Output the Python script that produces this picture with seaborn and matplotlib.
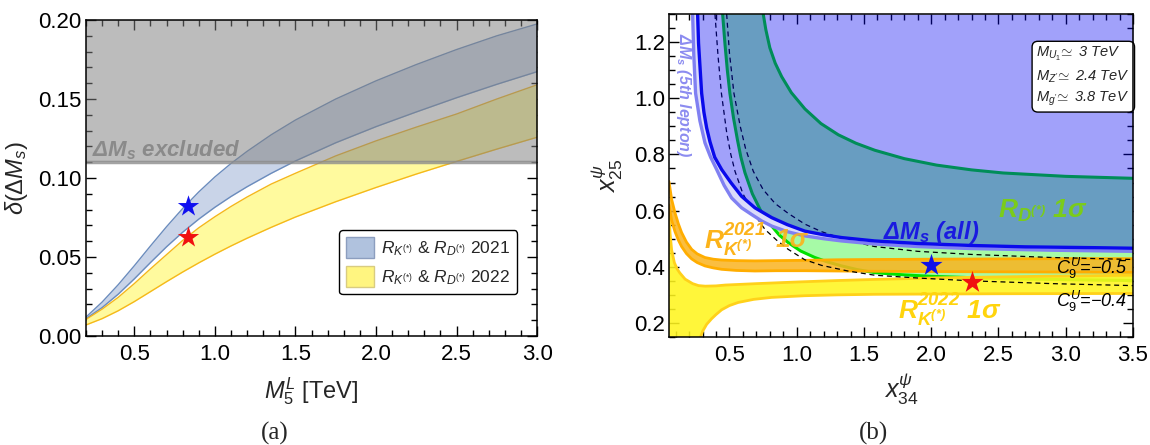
import matplotlib
matplotlib.use("Agg")
import matplotlib.pyplot as plt
from matplotlib.patches import Patch
from matplotlib.ticker import MultipleLocator, FormatStrFormatter
import seaborn as sns

# ---------------- panel (a): delta(Delta M_s) vs M_5^L ----------------
m5 = [0.2, 0.3, 0.4, 0.5, 0.6, 0.7, 0.8, 0.9, 1.0, 1.1, 1.2, 1.35, 1.5, 1.75, 2.0, 2.25, 2.5, 2.75, 3.0]
band21_hi = [0.012, 0.0215, 0.0325, 0.0445, 0.057, 0.0692, 0.0807, 0.0912, 0.1007, 0.1092,
             0.1169, 0.1274, 0.1367, 0.150, 0.1615, 0.1718, 0.1813, 0.190, 0.1975]
band21_lo = [0.011, 0.018, 0.0265, 0.0362, 0.0465, 0.0565, 0.0657, 0.074, 0.0815, 0.0883,
             0.0945, 0.103, 0.1108, 0.1223, 0.1325, 0.1418, 0.1508, 0.1593, 0.1673]
band22_hi = [0.0105, 0.017, 0.0245, 0.0332, 0.0425, 0.0515, 0.0605, 0.0685, 0.0755, 0.082,
             0.088, 0.0962, 0.103, 0.114, 0.1235, 0.1322, 0.1405, 0.150, 0.159]
band22_lo = [0.007, 0.011, 0.016, 0.0218, 0.0281, 0.0344, 0.0405, 0.0463, 0.0518, 0.057,
             0.0619, 0.0688, 0.0753, 0.085, 0.094, 0.1025, 0.1105, 0.1183, 0.1258]
dms_excluded = 0.11
star_m5 = [0.836]
star21 = [0.082]
star22 = [0.0627]
legend_labels = [r"$R_{K^{(*)}}$ & $R_{D^{(*)}}$ 2021", r"$R_{K^{(*)}}$ & $R_{D^{(*)}}$ 2022"]

# ---------------- panel (b): x25 vs x34 ----------------
dms_all_x = [0.263, 0.27, 0.293, 0.31, 0.33, 0.355, 0.39, 0.442, 0.51, 0.59, 0.689, 0.814,
             0.93, 1.06, 1.2, 1.334, 1.58, 1.9, 2.29, 2.7, 3.22, 3.5]
dms_all_y = [1.3, 1.196, 1.018, 0.95, 0.895, 0.845, 0.79, 0.746, 0.70, 0.651, 0.61, 0.575,
             0.55, 0.527, 0.514, 0.504, 0.492, 0.483, 0.476, 0.471, 0.468, 0.466]
dms_5th_x = [0.226, 0.235, 0.248, 0.28, 0.318, 0.36, 0.405, 0.46, 0.516, 0.59, 0.665, 0.74,
             0.814, 0.93, 1.06, 1.2, 1.334, 1.58, 1.9, 2.29, 2.9, 3.5]
dms_5th_y = [1.3, 1.15, 1.018, 0.92, 0.841, 0.79, 0.746, 0.69, 0.645, 0.61, 0.586, 0.563,
             0.545, 0.525, 0.51, 0.5, 0.492, 0.481, 0.472, 0.465, 0.459, 0.455]

rd_lo_x = [0.449, 0.466, 0.484, 0.503, 0.53, 0.56, 0.585, 0.615, 0.67, 0.739, 0.814, 0.87,
           0.937, 1.03, 1.135, 1.23, 1.334, 1.45, 1.58, 1.8, 2.0, 2.5, 3.0, 3.5]
rd_lo_y = [1.3, 1.196, 1.1, 1.018, 0.93, 0.85, 0.79, 0.735, 0.66, 0.593, 0.545, 0.513,
           0.486, 0.456, 0.433, 0.417, 0.403, 0.39, 0.379, 0.371, 0.366, 0.358, 0.354, 0.351]
rd_hi_x = [0.751, 0.77, 0.80, 0.84, 0.888, 0.96, 1.061, 1.18, 1.309, 1.44, 1.58, 1.8, 2.04,
           2.3, 2.535, 3.0, 3.5]
rd_hi_y = [1.3, 1.245, 1.18, 1.125, 1.077, 1.02, 0.962, 0.91, 0.87, 0.84, 0.815, 0.785, 0.762,
           0.745, 0.734, 0.722, 0.715]

c9_04_x = [0.392, 0.415, 0.44, 0.48, 0.51, 0.541, 0.6, 0.68, 0.764, 0.85, 0.937, 1.06, 1.185,
           1.38, 1.58, 1.9, 2.3, 2.9, 3.5]
c9_04_y = [1.3, 1.15, 1.018, 0.875, 0.80, 0.74, 0.66, 0.59, 0.533, 0.495, 0.462, 0.425, 0.405,
           0.385, 0.370, 0.36, 0.350, 0.34, 0.333]
c9_05_x = [0.479, 0.5, 0.533, 0.58, 0.62, 0.677, 0.75, 0.84, 0.937, 1.06, 1.185, 1.38, 1.58,
           1.9, 2.3, 2.9, 3.5]
c9_05_y = [1.3, 1.16, 1.018, 0.9, 0.82, 0.74, 0.675, 0.625, 0.59, 0.552, 0.525, 0.494, 0.472,
           0.455, 0.444, 0.433, 0.426]

rk21_x = [0.05, 0.07, 0.095, 0.12, 0.144, 0.18, 0.219, 0.26, 0.318, 0.38, 0.442, 0.55, 0.689,
          0.85, 1.06, 1.3, 1.58, 2.0, 2.5, 3.0, 3.5]
rk21_hi = [0.704, 0.64, 0.592, 0.553, 0.522, 0.488, 0.462, 0.446, 0.433, 0.427, 0.424, 0.422,
           0.421, 0.422, 0.423, 0.425, 0.426, 0.427, 0.428, 0.429, 0.429]
rk21_lo = [0.62, 0.565, 0.525, 0.495, 0.472, 0.447, 0.428, 0.415, 0.403, 0.396, 0.391, 0.387,
           0.385, 0.386, 0.386, 0.385, 0.384, 0.383, 0.382, 0.381, 0.38]

rk22_hi_x = [0.05, 0.058, 0.07, 0.09, 0.11, 0.131, 0.17, 0.226, 0.27, 0.32, 0.4, 0.469, 0.7,
             1.009, 1.3, 1.58, 2.09, 2.8, 3.5]
rk22_hi_y = [0.60, 0.52, 0.46, 0.415, 0.393, 0.378, 0.356, 0.34, 0.333, 0.331, 0.332, 0.335,
             0.34, 0.346, 0.351, 0.355, 0.361, 0.366, 0.37]
rk22_lo_x = [0.285, 0.3, 0.33, 0.367, 0.4, 0.442, 0.5, 0.565, 0.68, 0.814, 1.06, 1.3, 1.58,
             2.5, 3.5]
rk22_lo_y = [0.15, 0.17, 0.195, 0.215, 0.23, 0.247, 0.262, 0.273, 0.284, 0.291, 0.297, 0.3,
             0.302, 0.304, 0.305]

bench_x = [2.0, 2.3]
bench_y = [0.405, 0.346]
bench_colors = ["#1010e8", "#f01010"]

XMIN, XMAX, YMIN, YMAX = 0.05, 3.5, 0.15, 1.3

sns.set_style("ticks")
plt.rcParams["font.family"] = ["Liberation Sans", "DejaVu Sans"]
plt.rcParams["mathtext.fontset"] = "custom"
plt.rcParams["mathtext.rm"] = "Liberation Sans"
plt.rcParams["mathtext.it"] = "Liberation Sans:italic"
plt.rcParams["mathtext.bf"] = "Liberation Sans:italic:bold"


def curve(ax, xs, ys, **kw):
    sns.lineplot(x=xs, y=ys, ax=ax, sort=False, estimator=None, **kw)


def frame(ax, xmaj, xmin, ymaj, ymin, xfmt, yfmt):
    ax.xaxis.set_major_locator(MultipleLocator(xmaj))
    ax.xaxis.set_minor_locator(MultipleLocator(xmin))
    ax.yaxis.set_major_locator(MultipleLocator(ymaj))
    ax.yaxis.set_minor_locator(MultipleLocator(ymin))
    ax.xaxis.set_major_formatter(FormatStrFormatter(xfmt))
    ax.yaxis.set_major_formatter(FormatStrFormatter(yfmt))
    ax.tick_params(which="both", direction="in", top=True, right=True,
                   width=1, colors="black", labelsize=16)
    ax.tick_params(which="major", length=7)
    ax.tick_params(which="minor", length=4)
    ax.tick_params(axis="x", pad=6)
    ax.tick_params(axis="y", pad=3)
    for s in ax.spines.values():
        s.set_linewidth(1.1)
        s.set_color("black")
        s.set_zorder(20)


fig = plt.figure(figsize=(11.5, 4.45), dpi=100)
axa = fig.add_axes([0.0748, 0.2449, 0.3922, 0.7101])
axb = fig.add_axes([0.5817, 0.2427, 0.4035, 0.7258])

# ---------------- panel (a) ----------------
blue_fill, blue_edge = (0.79, 0.83, 0.91), (0.42, 0.55, 0.74)
yel_fill, yel_edge = (1.0, 0.98, 0.62), (0.96, 0.72, 0.1)
axa.fill_between(m5, band21_lo, band21_hi, color=blue_fill, lw=0, zorder=1)
axa.fill_between(m5, band22_lo, band22_hi, color=yel_fill, lw=0, zorder=1)
for arr in (band21_hi, band21_lo):
    curve(axa, m5, arr, color=blue_edge, lw=1, zorder=2)
for arr in (band22_hi, band22_lo):
    curve(axa, m5, arr, color=yel_edge, lw=1, zorder=2)
axa.axhspan(dms_excluded, 0.2, color=(0.5, 0.5, 0.5), alpha=0.52, lw=0, zorder=3)
axa.axhline(dms_excluded, color=(0.55, 0.55, 0.55), lw=2.5, alpha=0.8, zorder=4)
axa.text(0.235, 0.1135, r"$\mathbf{\Delta M_s}$ excluded", fontsize=16, fontweight="bold",
         style="italic", color=(0.54, 0.54, 0.54), zorder=5)
sns.scatterplot(x=star_m5, y=star21, ax=axa, marker="*", s=260, color="#1010f0", lw=0, zorder=6)
sns.scatterplot(x=star_m5, y=star22, ax=axa, marker="*", s=260, color="#f01010", lw=0, zorder=6)

handles = [Patch(facecolor=(0.69, 0.76, 0.87), edgecolor=(0.55, 0.62, 0.75), label=legend_labels[0]),
           Patch(facecolor=(1.0, 0.96, 0.5), edgecolor=(0.85, 0.8, 0.5), label=legend_labels[1])]
leg = axa.legend(handles=handles, loc="lower right", bbox_to_anchor=(0.975, 0.105), fontsize=12.5,
                 frameon=True, fancybox=True, edgecolor="black", framealpha=1,
                 handlelength=1.6, handleheight=1.5, borderpad=0.4, labelspacing=0.45,
                 handletextpad=0.4)
leg.get_frame().set_linewidth(1.0)
leg.set_zorder(10)

axa.set_xlim(0.2, 3.0)
axa.set_ylim(0, 0.2)
frame(axa, 0.5, 0.1, 0.05, 0.01, "%.1f", "%.2f")
axa.set_xlabel(r"$M_5^L$ [TeV]", fontsize=17)
axa.set_ylabel(r"$\delta(\Delta M_s)$", fontsize=17)
axa.xaxis.set_label_coords(0.5, -0.125)
axa.yaxis.set_label_coords(-0.124, 0.5)

# ---------------- panel (b) ----------------
green_fill = (0.65, 0.98, 0.65)
axb.fill(rd_lo_x + rd_hi_x[::-1], rd_lo_y + rd_hi_y[::-1], color=green_fill, lw=0, zorder=1)
curve(axb, rd_lo_x, rd_lo_y, color=(0.0, 0.88, 0.0), lw=2.2, zorder=2)
curve(axb, rd_hi_x, rd_hi_y, color=(0.0, 0.88, 0.0), lw=2.2, zorder=2)

axb.fill(rk22_hi_x + rk22_lo_x[::-1] + [XMIN], rk22_hi_y + rk22_lo_y[::-1] + [YMIN],
         color=(1.0, 0.96, 0.12), alpha=0.88, lw=0, zorder=3)
curve(axb, rk22_hi_x, rk22_hi_y, color=(1.0, 0.82, 0.1), lw=2, zorder=4)
curve(axb, rk22_lo_x, rk22_lo_y, color=(1.0, 0.82, 0.1), lw=2, zorder=4)
axb.fill_between(rk21_x, rk21_lo, rk21_hi, color=(0.98, 0.7, 0.12), alpha=0.85, lw=0, zorder=5)
curve(axb, rk21_x, rk21_hi, color=(1.0, 0.68, 0.0), lw=2, zorder=6)
curve(axb, rk21_x, rk21_lo, color=(1.0, 0.68, 0.0), lw=2, zorder=6)

curve(axb, c9_04_x, c9_04_y, color="black", lw=0.9, linestyle=(0, (4, 3)), zorder=7)
curve(axb, c9_05_x, c9_05_y, color="black", lw=0.9, linestyle=(0, (4, 3)), zorder=7)

# Delta M_s excluded region (translucent overlay)
axb.fill_between(dms_all_x, dms_all_y, YMAX, color=(0.0, 0.0, 0.95), alpha=0.37, lw=0, zorder=8)
axb.fill(dms_5th_x + dms_all_x[::-1], dms_5th_y + dms_all_y[::-1], color=(0.86, 0.86, 0.98),
         lw=0, zorder=8)
curve(axb, dms_5th_x, dms_5th_y, color=(0.5, 0.5, 0.95), lw=2.4, zorder=9)
curve(axb, dms_all_x, dms_all_y, color=(0.04, 0.04, 0.92), lw=2.4, zorder=9)

for bx, by, bc in zip(bench_x, bench_y, bench_colors):
    sns.scatterplot(x=[bx], y=[by], ax=axb, marker="*", s=280, color=bc, lw=0, zorder=12)

axb.text(0.16, 1.01, r"$\mathbf{\Delta M_s}$ (5th lepton)", rotation=-90, ha="center", va="center",
         fontsize=11.5, fontweight="bold", style="italic", color=(0.55, 0.55, 0.94), zorder=11)
axb.text(1.64, 0.498, r"$\mathbf{\Delta M_s}$ (all)", fontsize=17, fontweight="bold",
         style="italic", color=(0.1, 0.1, 0.88), zorder=11)
axb.text(2.5, 0.575, r"$\mathbf{R_{D^{(*)}}}$ 1σ", fontsize=19, fontweight="bold",
         style="italic", color=(0.48, 0.8, 0.1), zorder=11)
axb.text(0.31, 0.465, r"$\mathbf{R^{2021}_{K^{(*)}}}$", fontsize=19, color=(0.99, 0.7, 0.1), zorder=11)
axb.text(0.84, 0.47, "1σ", fontsize=19, fontweight="bold", style="italic",
         color=(0.99, 0.7, 0.1), alpha=0.9, zorder=11)
axb.text(1.75, 0.215, r"$\mathbf{R^{2022}_{K^{(*)}}}$ 1σ", fontsize=19, fontweight="bold",
         style="italic", color=(1.0, 0.83, 0.05), zorder=11)
axb.text(2.93, 0.373, r"$C_9^U$=−0.5", fontsize=13, style="italic", color="black", zorder=11)
axb.text(2.93, 0.256, r"$C_9^U$=−0.4", fontsize=13, style="italic", color="black", zorder=11)
axb.text(0.792, 0.903,
         r"$M_{U_1}\!\simeq$ 3 TeV" + "\n" + r"$M_{Z'}\!\simeq$ 2.4 TeV" + "\n" + r"$M_{g'}\!\simeq$ 3.8 TeV",
         transform=axb.transAxes, ha="left", va="top", fontsize=10.5, style="italic",
         linespacing=1.4, zorder=13,
         bbox=dict(boxstyle="round,pad=0.3,rounding_size=0.4", fc="white", ec="black", lw=1))

axb.set_xlim(XMIN, XMAX)
axb.set_ylim(YMIN, YMAX)
frame(axb, 0.5, 0.1, 0.2, 0.05, "%.1f", "%.1f")
axb.set_xlabel(r"$x_{34}^{\psi}$", fontsize=18)
axb.set_ylabel(r"$x_{25}^{\psi}$", fontsize=18)
axb.xaxis.set_label_coords(0.5, -0.105)
axb.yaxis.set_label_coords(-0.095, 0.5)

fig.text(275 / 1150, 1 - 433 / 445, "(a)", family="Liberation Serif", fontsize=18,
         ha="center", va="center")
fig.text(874 / 1150, 1 - 433 / 445, "(b)", family="Liberation Serif", fontsize=18,
         ha="center", va="center")

fig.savefig("out.png", dpi=100)
